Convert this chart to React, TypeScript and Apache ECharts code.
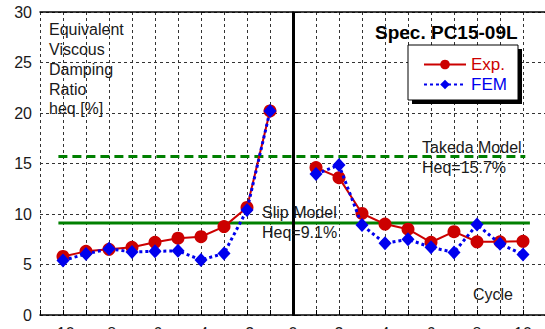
import React, { useEffect, useRef } from "react";
import * as echarts from "echarts";

const cycles = [-10, -9, -8, -7, -6, -5, -4, -3, -2, -1, 0, 1, 2, 3, 4, 5, 6, 7, 8, 9, 10];
const expValues = [5.8, 6.3, 6.5, 6.7, 7.2, 7.6, 7.75, 8.75, 10.65, 20.2, null, 14.6, 13.6, 10.05, 9.0, 8.5, 7.2, 8.25, 7.25, 7.25, 7.3];
const femValues = [5.4, 6.05, 6.55, 6.25, 6.3, 6.35, 5.45, 6.1, 10.4, 20.2, null, 13.95, 14.85, 8.9, 7.1, 7.5, 6.7, 6.2, 8.95, 7.05, 6.0];
const takedaHeq = 15.7;
const slipHeq = 9.1;
const takedaSpan = [-10.2, 10.1];
const slipSpan = [-10.2, 10.3];
const yTicks = [0, 30, 5];
const xRange = [-11, 11];

const FONT = '"Liberation Sans", Arial, sans-serif';

export default function App() {
  const ref = useRef<HTMLDivElement>(null);
  useEffect(() => {
    if (!ref.current) return;
    const chart = echarts.init(ref.current, null, { renderer: "svg" });
    const textColor = "#1a1a1a";
    const gridDash = { type: [3, 3] as any, color: "#333", width: 1 };
    const txt = (x: number, y: number, text: string, extra: any = {}) => ({
      type: "text",
      x,
      y,
      z: 50,
      style: { text, fill: textColor, font: `16px ${FONT}`, verticalAlign: "middle", ...extra },
    });
    chart.setOption({
      animation: false,
      backgroundColor: "#fff",
      grid: { left: 40, top: 12, width: 506, height: 303, containLabel: false, outerBoundsMode: "none" },
      xAxis: [
        {
          type: "value",
          min: xRange[0],
          max: xRange[1],
          interval: 1,
          axisLine: { lineStyle: { color: "#000", width: 1.5 } },
          axisTick: { inside: true, length: 5, lineStyle: { color: "#000" } },
          axisLabel: {
            fontSize: 16,
            fontFamily: FONT,
            color: textColor,
            margin: 10,
            formatter: (v: number) => (Math.abs(v) <= 10 && v % 2 === 0 ? String(v) : ""),
          },
          splitLine: { show: true, lineStyle: gridDash },
        },
        {
          type: "value",
          position: "top",
          min: xRange[0],
          max: xRange[1],
          axisLine: { show: true, onZero: false, lineStyle: { color: "#000", width: 1.5 } },
          axisTick: { show: false },
          axisLabel: { show: false },
          splitLine: { show: false },
        },
      ],
      yAxis: {
        type: "value",
        min: yTicks[0],
        max: yTicks[1],
        interval: yTicks[2],
        axisLine: { show: true, lineStyle: { color: "#000", width: 1.5 } },
        axisTick: { show: true, inside: true, length: 5, lineStyle: { color: "#000" } },
        axisLabel: { fontSize: 16, fontFamily: FONT, color: textColor, margin: 8 },
        splitLine: { show: true, lineStyle: gridDash },
      },
      legend: {
        orient: "vertical",
        left: 418,
        top: 51,
        z: 10,
        itemWidth: 42,
        itemHeight: 12,
        itemGap: 3,
        data: [
          { name: "Exp.", textStyle: { color: "#cc0000" } },
          { name: "FEM", textStyle: { color: "#0000ee" } },
        ],
        textStyle: { fontSize: 17, fontFamily: FONT },
      },
      graphic: [
        { type: "rect", z: 5, shape: { x: 412, y: 49, width: 110, height: 55 }, style: { fill: "#000" } },
        { type: "rect", z: 6, shape: { x: 408, y: 45, width: 110, height: 55 }, style: { fill: "#fff", stroke: "#000", lineWidth: 1 } },
        txt(49, 29, "Equivalent"),
        txt(49, 49, "Viscous"),
        txt(49, 69, "Damping"),
        txt(49, 89, "Ratio"),
        txt(49, 108, "heq [%]"),
        txt(375, 32, "Spec. PC15-09L", { font: `bold 19px ${FONT}`, fill: "#000" }),
        txt(422, 147, "Takeda Model"),
        txt(422, 167, "Heq=15.7%"),
        txt(262, 212, "Slip Model"),
        txt(262, 232, "Heq=9.1%"),
        txt(473, 294, "Cycle"),
      ],
      series: [
        {
          name: "axis0",
          type: "line",
          data: [],
          markLine: {
            silent: true,
            symbol: "none",
            label: { show: false },
            lineStyle: { color: "#000", width: 3, type: "solid" },
            data: [{ xAxis: 0 }],
          },
        },
        {
          name: "Takeda",
          type: "line",
          data: takedaSpan.map((x) => [x, takedaHeq]),
          symbol: "none",
          lineStyle: { color: "#008000", width: 3, type: [9, 5] },
          z: 2,
        },
        {
          name: "Slip",
          type: "line",
          data: slipSpan.map((x) => [x, slipHeq]),
          symbol: "none",
          lineStyle: { color: "#008000", width: 3, type: "solid" },
          z: 2,
        },
        {
          name: "Exp.",
          type: "line",
          data: cycles.map((c, i) => [c, expValues[i] === null ? "-" : expValues[i]]),
          symbol: "circle",
          symbolSize: 13,
          connectNulls: false,
          itemStyle: { color: "#cc0000" },
          lineStyle: { color: "#cc0000", width: 2 },
          z: 3,
        },
        {
          name: "FEM",
          type: "line",
          data: cycles.map((c, i) => [c, femValues[i] === null ? "-" : femValues[i]]),
          symbol: "diamond",
          symbolSize: [13, 14],
          connectNulls: false,
          itemStyle: { color: "#0000ee" },
          lineStyle: { color: "#0000ee", width: 3, type: [3, 3] },
          z: 4,
        },
      ],
    });
    return () => chart.dispose();
  }, []);
  return <div ref={ref} style={{ position: "absolute", left: 0, top: 0, width: 545, height: 329 }} />;
}
